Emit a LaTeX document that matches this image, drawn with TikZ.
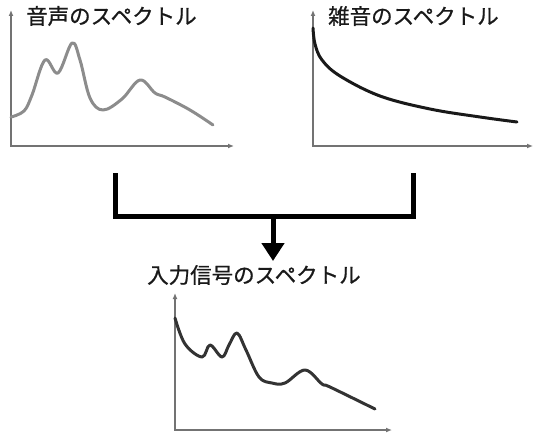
\documentclass[tikz,border=0pt]{standalone}
\usepackage{fontspec}
\newfontfamily\jpfont[FakeBold=0.8]{Noto Sans CJK JP}
\usetikzlibrary{arrows.meta}

\begin{document}
\begin{tikzpicture}[x=1pt,y=-1pt,
  axis/.style={draw=black!55, line width=1.5pt, {Latex[length=6pt,width=5pt]}-{Latex[length=6pt,width=5pt]}},
  title/.style={font=\jpfont\fontsize{21.5pt}{24pt}\selectfont, text=black!90, inner sep=0pt, anchor=west},
  spec/.style={line width=3pt, line cap=round, line join=round}]
\useasboundingbox (0,0) rectangle (533,436);
% chart origins and axis ends
\coordinate (O1) at (11,146); \coordinate (Y1) at (11,10); \coordinate (X1) at (234,146);
\coordinate (O2) at (313,146); \coordinate (Y2) at (313,10); \coordinate (X2) at (533,146);
\coordinate (O3) at (175,430); \coordinate (Y3) at (175,293); \coordinate (X3) at (392,430);
\draw[axis] (Y1) -- (O1) -- (X1);
\draw[axis] (Y2) -- (O2) -- (X2);
\draw[axis] (Y3) -- (O3) -- (X3);
% titles
\node[title] (voice) at (26,16) {音声のスペクトル};
\node[title] (noise) at (328,16) {雑音のスペクトル};
\node[title] (input) at (147,275) {入力信号のスペクトル};
% spectra
\draw[spec, draw=black!45] plot[smooth, tension=0.6] coordinates {(11,117) (24,111) (32,95) (45,60) (58,73) (72,43) (80,60) (90,98) (103,110) (122,99) (140,80) (155,93) (165,97) (190,110) (213,125)};
\draw[spec, draw=black!90] plot[smooth, tension=0.6] coordinates {(313,28) (315,44) (322,60) (340,76) (380,96) (430,109) (480,117) (517,122)};
\draw[spec, draw=black!80] plot[smooth, tension=0.6] coordinates {(175,318) (185,344) (202,357) (210,345) (222,357) (229,345) (237,333) (246,350) (259,377) (272,383) (285,383) (305,370) (322,384) (330,387) (375,409)};
% bracket and arrow
\coordinate (L) at (115,173); \coordinate (R) at (413,173);
\coordinate (LB) at (115,216); \coordinate (RB) at (413,216);
\coordinate (M) at (273,216); \coordinate (T) at (273,261);
\draw[line width=5pt, line join=miter] (L) -- (LB) -- (RB) -- (R);
\draw[line width=5pt, -{Triangle[length=18pt,width=22pt]}] (M) -- (T);
\end{tikzpicture}
\end{document}
